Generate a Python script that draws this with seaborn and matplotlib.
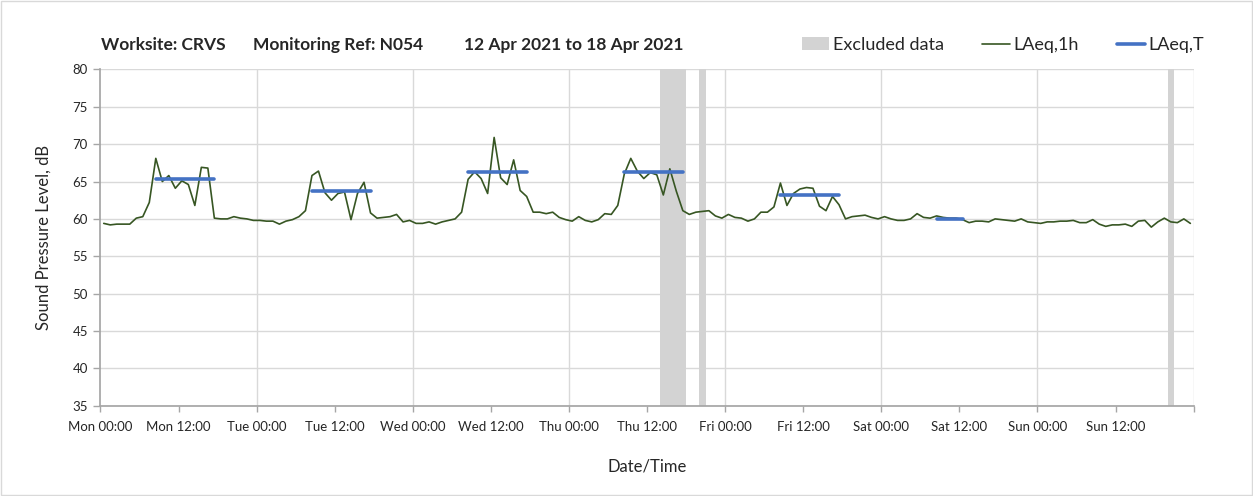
import pandas as pd
import seaborn as sns
import matplotlib.pyplot as plt
from matplotlib.patches import Patch, Rectangle
from matplotlib.lines import Line2D

# hourly LAeq,1h, Mon 12 Apr 2021 00:00 -> Sun 18 Apr 2021 23:00 (plotted mid-hour)
laeq_1h = [
    # Mon
    59.4, 59.2, 59.3, 59.3, 59.3, 60.1, 60.3, 62.2, 68.1, 65.0, 65.8, 64.1,
    65.1, 64.6, 61.8, 66.9, 66.8, 60.1, 60.0, 60.0, 60.3, 60.1, 60.0, 59.8,
    # Tue
    59.8, 59.7, 59.7, 59.3, 59.7, 59.9, 60.3, 61.1, 65.8, 66.4, 63.5, 62.5,
    63.4, 63.6, 59.9, 63.4, 64.9, 60.8, 60.1, 60.2, 60.3, 60.6, 59.6, 59.8,
    # Wed
    59.4, 59.4, 59.6, 59.3, 59.6, 59.8, 60.0, 60.9, 65.3, 66.3, 65.4, 63.4,
    70.9, 65.5, 64.6, 67.9, 63.8, 63.0, 60.9, 60.9, 60.7, 60.9, 60.2, 59.9,
    # Thu
    59.7, 60.3, 59.8, 59.6, 59.9, 60.7, 60.6, 61.8, 66.0, 68.1, 66.4, 65.4,
    66.2, 65.9, 63.2, 66.7, 63.7, 61.1, 60.6, 60.9, 61.0, 61.1, 60.4, 60.1,
    # Fri
    60.6, 60.2, 60.1, 59.7, 60.0, 60.9, 60.9, 61.6, 64.8, 61.8, 63.4, 64.0,
    64.2, 64.1, 61.7, 61.1, 63.0, 61.9, 60.0, 60.3, 60.4, 60.5, 60.2, 60.0,
    # Sat
    60.3, 60.0, 59.8, 59.8, 60.0, 60.7, 60.2, 60.1, 60.4, 60.2, 60.1, 60.1,
    59.9, 59.5, 59.7, 59.7, 59.6, 60.0, 59.9, 59.8, 59.7, 60.0, 59.6, 59.5,
    # Sun
    59.4, 59.6, 59.6, 59.7, 59.7, 59.8, 59.5, 59.5, 59.9, 59.3, 59.0, 59.2,
    59.2, 59.3, 59.0, 59.7, 59.8, 58.9, 59.6, 60.1, 59.6, 59.5, 60.0, 59.4,
]

# LAeq,T over each day's working period (hours from Mon 00:00)
laeqT_start = [8.5, 32.5, 56.5, 80.5, 104.5, 128.5]
laeqT_end = [17.5, 41.5, 65.5, 89.5, 113.5, 132.5]
laeqT_value = [65.4, 63.8, 66.3, 66.3, 63.2, 60.0]

# excluded periods (hours from Mon 00:00)
excluded_start = [86, 92, 164]
excluded_end = [90, 93, 165]

tick_labels = [
    "Mon 00:00", "Mon 12:00", "Tue 00:00", "Tue 12:00", "Wed 00:00", "Wed 12:00",
    "Thu 00:00", "Thu 12:00", "Fri 00:00", "Fri 12:00", "Sat 00:00", "Sat 12:00",
    "Sun 00:00", "Sun 12:00", "",
]

GREEN = "#375623"
BLUE = "#4472C4"
GREY = "#D3D3D3"

df = pd.DataFrame({"hour": [i + 0.5 for i in range(len(laeq_1h))], "LAeq,1h": laeq_1h})
dfT = pd.DataFrame(
    {
        "period": list(range(len(laeqT_value))) * 2,
        "hour": laeqT_start + laeqT_end,
        "LAeq,T": laeqT_value * 2,
    }
)

custom_params = {
    "axes.spines.right": False,
    "axes.spines.top": False,
    "axes.edgecolor": "#A6A6A6",
    "grid.color": "#D9D9D9",
    "xtick.color": "#A6A6A6",
    "ytick.color": "#A6A6A6",
    "xtick.labelcolor": "#262626",
    "ytick.labelcolor": "#262626",
}
sns.set_theme(style="ticks", rc=custom_params)
plt.rcParams["font.family"] = ["Lato", "DejaVu Sans"]

fig = plt.figure(figsize=(12.53, 4.96), dpi=100)
ax = fig.add_axes([0.0802, 0.182, 0.8724, 0.678])

for s, e in zip(excluded_start, excluded_end):
    ax.axvspan(s, e, color=GREY, lw=0, zorder=1)

sns.lineplot(data=df, x="hour", y="LAeq,1h", color=GREEN, lw=1.2, ax=ax, zorder=3)
sns.lineplot(
    data=dfT, x="hour", y="LAeq,T", units="period", estimator=None,
    color=BLUE, lw=2.6, ax=ax, zorder=4,
)

ax.set_xlim(0, 168)
ax.set_ylim(35, 80)
ax.set_yticks(range(35, 81, 5))
ax.set_xticks(range(0, 169, 12))
ax.set_xticklabels(tick_labels)
ax.grid(axis="y", lw=1)
# vertical grid only at midnight
for d in range(24, 169, 24):
    ax.axvline(d, color="#D9D9D9", lw=1, zorder=0)
ax.tick_params(axis="x", length=4, width=1, pad=7, labelsize=9.5)
ax.tick_params(axis="y", length=5, width=1, pad=4, labelsize=9.5)
ax.set_xlabel("Date/Time", fontsize=12, color="#262626", labelpad=18)
ax.set_ylabel("Sound Pressure Level, dB", fontsize=12, color="#262626", labelpad=15)

title_kw = dict(fontsize=12.5, fontweight="bold", va="center")
fig.text(0.0806, 0.909, "Worksite: CRVS", **title_kw)
fig.text(0.2019, 0.909, "Monitoring Ref: N054", **title_kw)
fig.text(0.370, 0.909, "12 Apr 2021 to 18 Apr 2021", **title_kw)

handles = [
    Patch(facecolor=GREY, edgecolor="none"),
    Line2D([], [], color=GREEN, lw=1.2),
    Line2D([], [], color=BLUE, lw=2.6),
]
fig.legend(
    handles, ["Excluded data", "LAeq,1h", "LAeq,T"], loc="center right",
    bbox_to_anchor=(0.961, 0.909), ncol=3, frameon=False, fontsize=13,
    handlelength=1.55, handletextpad=0.2, columnspacing=2.1,
    borderpad=0, borderaxespad=0,
)

fig.patches.append(
    Rectangle((0.001, 0.002), 0.998, 0.996, transform=fig.transFigure,
              fill=False, edgecolor="#D9D9D9", lw=1)
)

plt.savefig("out.png", dpi=100)
